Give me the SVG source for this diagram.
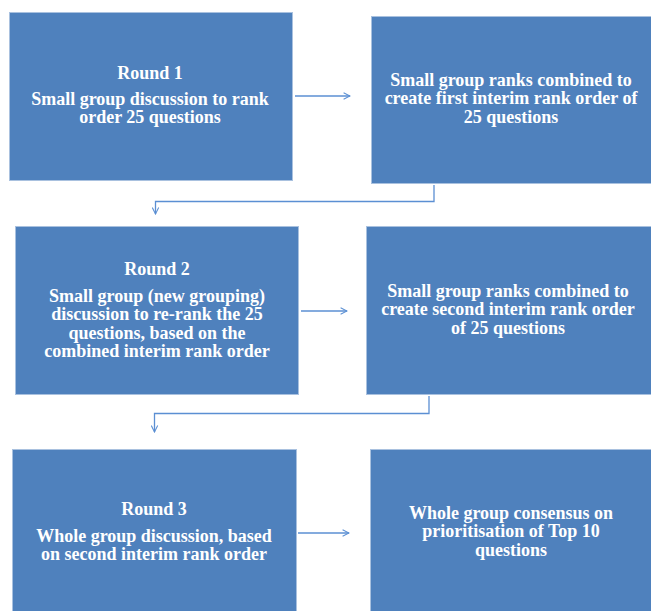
<svg xmlns="http://www.w3.org/2000/svg" width="651" height="611" viewBox="0 0 651 611">
<defs>
<style>
.box{fill:#4F81BD;stroke:#A9C1DF;stroke-width:1}
.t{font-family:"Liberation Serif","DejaVu Serif",serif;font-weight:bold;font-size:18px;fill:#fff;text-anchor:middle}
.c{fill:none;stroke:#5B8FD3;stroke-width:1.3}
</style>
<marker id="ah" viewBox="0 0 10 10" refX="9" refY="5" markerWidth="8" markerHeight="8" markerUnits="userSpaceOnUse" orient="auto">
<path d="M1,1 L9,5 L1,9" fill="none" stroke="#5B8FD3" stroke-width="1.3"/>
</marker>
</defs>
<rect width="651" height="611" fill="#fff"/>
<g id="n1"><rect class="box" x="9.5" y="12.5" width="283" height="168"/>
<text class="t" x="150" y="79">Round 1</text>
<text class="t" x="150" y="105">Small group discussion to rank</text>
<text class="t" x="150" y="123">order 25 questions</text></g>
<g id="n2"><rect class="box" x="371.5" y="16.5" width="281" height="167"/>
<text class="t" x="511" y="86">Small group ranks combined to</text>
<text class="t" x="511" y="104">create first interim rank order of</text>
<text class="t" x="511" y="123">25 questions</text></g>
<g id="n3"><rect class="box" x="15.5" y="226.5" width="283" height="168"/>
<text class="t" x="157" y="275">Round 2</text>
<text class="t" x="157" y="302">Small group (new grouping)</text>
<text class="t" x="157" y="320">discussion to re-rank the 25</text>
<text class="t" x="157" y="339">questions, based on the</text>
<text class="t" x="157" y="357">combined interim rank order</text></g>
<g id="n4"><rect class="box" x="366.5" y="226.5" width="285" height="168"/>
<text class="t" x="508" y="297">Small group ranks combined to</text>
<text class="t" x="508" y="315">create second interim rank order</text>
<text class="t" x="508" y="334">of 25 questions</text></g>
<g id="n5"><rect class="box" x="12.5" y="449.5" width="284" height="170"/>
<text class="t" x="154" y="515">Round 3</text>
<text class="t" x="154" y="542">Whole group discussion, based</text>
<text class="t" x="154" y="560">on second interim rank order</text></g>
<g id="n6"><rect class="box" x="370.5" y="449.5" width="282" height="170"/>
<text class="t" x="511" y="519">Whole group consensus on</text>
<text class="t" x="511" y="537">prioritisation of Top 10</text>
<text class="t" x="511" y="556">questions</text></g>
<g id="connectors">
<path class="c" d="M295,96 H350" marker-end="url(#ah)"/>
<path class="c" d="M301,311 H347" marker-end="url(#ah)"/>
<path class="c" d="M298,533 H349" marker-end="url(#ah)"/>
<path class="c" d="M434,185 V201.5 H155.5 V214" marker-end="url(#ah)"/>
<path class="c" d="M429,396 V413.5 H154.5 V432" marker-end="url(#ah)"/>
</g>
</svg>
